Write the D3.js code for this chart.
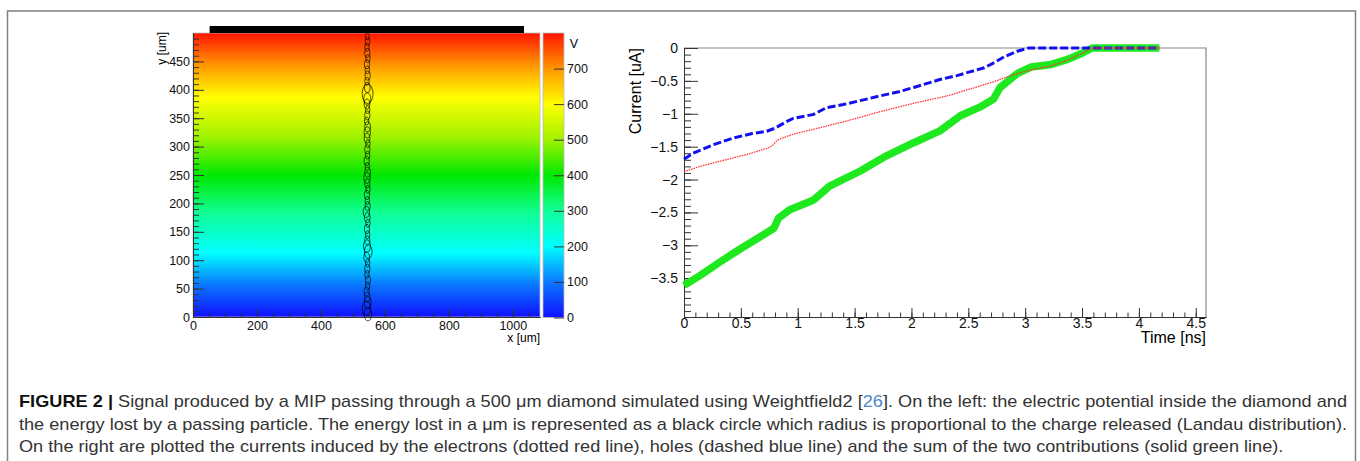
<!DOCTYPE html>
<html>
  <head>
    <meta charset="utf-8">
    <title>Weightfield2 diamond signal</title>
    <script src="https://d3js.org/d3.v7.min.js"></script>
    <style>
      body { margin: 0; background: #fff; }
      svg { display: block; font-family: "Liberation Sans", Arial, sans-serif; }
    </style>
  </head>
  <body>
    <div id="figure"></div>
    <script>
      // ---- left panel: potential map [um] and deposited charge ----
      var fieldY = [0, 113, 254, 388, 500];        // depth in um
      var fieldV = [0, 200, 406, 602, 800];        // potential in V
      var paletteV = [0, 100, 200, 300, 400, 500, 600, 700, 800];
      var paletteColors = ["#1010ff", "#0a78ff", "#00ffff", "#10ff98", "#00e800", "#a2f200", "#ffff00", "#ff9600", "#ff1400"];
      var colorTicks = [0, 100, 200, 300, 400, 500, 600, 700];
      var xTicksLeft = [0, 200, 400, 600, 800, 1000];
      var yTicksLeft = [0, 50, 100, 150, 200, 250, 300, 350, 400, 450];
      var electrode = [52, 1035];

      // circles along the track: y [um], radius [um], small x offset [um]
      var trackY = [5, 15, 25, 35, 45, 55, 65, 75, 85, 95, 105, 115, 125, 135, 145, 155, 165, 175, 185, 195,
                    205, 215, 225, 235, 245, 255, 265, 275, 285, 295, 305, 315, 325, 335, 345, 355, 365, 375, 384, 393,
                    404, 415, 425, 435, 445, 455, 465, 475, 485, 494];
      var trackR = [12, 13, 11, 9, 8, 7, 8, 7, 8, 7, 9, 12, 11, 8, 7, 8, 7, 9, 10, 8,
                    7, 8, 7, 8, 10, 9, 7, 8, 7, 8, 7, 9, 10, 9, 7, 8, 7, 9, 11, 17,
                    9, 7, 8, 7, 8, 7, 8, 7, 7, 6];
      var trackDx = [2, -3, 1, 0, -2, 1, 2, -1, 0, 1, -2, 3, -1, 0, 1, -1, 2, 0, -3, 1,
                     0, -1, 2, 0, -1, 1, 0, -2, 1, 0, 2, -1, 0, 1, -2, 0, 1, -1, 0, 1,
                     0, -1, 1, 0, -1, 2, 0, -1, 1, 0];

      // ---- right panel: induced currents ----
      var timeTicks = [0, 0.5, 1, 1.5, 2, 2.5, 3, 3.5, 4, 4.5];
      var currentTicks = [0, -0.5, -1, -1.5, -2, -2.5, -3, -3.5];

      var holesT = [0, 0.08, 0.26, 0.43, 0.60, 0.72, 0.80, 0.90, 0.96, 1.14, 1.25, 1.40, 1.55, 1.72, 1.90, 2.02, 2.25, 2.40, 2.52, 2.64, 2.73, 2.82, 2.93, 3.03, 3.5, 4.18];
      var holesI = [-1.69, -1.60, -1.47, -1.37, -1.30, -1.27, -1.22, -1.12, -1.07, -1.01, -0.91, -0.86, -0.80, -0.73, -0.66, -0.60, -0.48, -0.42, -0.36, -0.30, -0.22, -0.13, -0.05, 0, 0, 0];

      var electronsT = [0, 0.14, 0.32, 0.55, 0.74, 0.78, 0.82, 0.96, 1.20, 1.43, 1.72, 2.02, 2.31, 2.54, 2.73, 2.87, 3.08, 3.23, 3.38, 3.50, 3.59, 4.18];
      var electronsI = [-1.88, -1.80, -1.72, -1.62, -1.52, -1.48, -1.40, -1.31, -1.21, -1.11, -0.97, -0.84, -0.73, -0.61, -0.51, -0.42, -0.32, -0.27, -0.18, -0.08, 0, 0];

      var sumT = [0, 0.14, 0.32, 0.49, 0.67, 0.79, 0.83, 0.93, 1.14, 1.28, 1.55, 1.78, 2.02, 2.25, 2.43, 2.60, 2.72, 2.78, 2.93, 3.05, 3.23, 3.38, 3.50, 3.59, 4.18];
      var sumI = [-3.61, -3.46, -3.25, -3.06, -2.87, -2.74, -2.59, -2.46, -2.31, -2.10, -1.87, -1.64, -1.44, -1.26, -1.03, -0.90, -0.78, -0.60, -0.39, -0.29, -0.25, -0.17, -0.08, 0, 0];

      var captionLines = [
        [["FIGURE 2 | ", "bold"], ["Signal produced by a MIP passing through a 500 \u03bcm diamond simulated using Weightfield2 [", ""], ["26", "ref"], ["]. On the left: the electric potential inside the diamond and", ""]],
        [["the energy lost by a passing particle. The energy lost in a \u03bcm is represented as a black circle which radius is proportional to the charge released (Landau distribution).", ""]],
        [["On the right are plotted the currents induced by the electrons (dotted red line), holes (dashed blue line) and the sum of the two contributions (solid green line).", ""]]
      ];

      var width = 1360;
      var height = 461;

      var svg = d3.select("#figure")
        .append("svg")
        .attr("width", width)
        .attr("height", height);

      // outer box
      svg.append("rect")
        .attr("x", 7.5)
        .attr("y", 11)
        .attr("width", 1348)
        .attr("height", 470)
        .style("fill", "none")
        .style("stroke", "#808080")
        .style("stroke-width", 1.5);

      var defs = svg.append("defs");

      // ================= left panel =================
      var xL = d3.scaleLinear().domain([0, 1085]).range([193, 540]);
      var yL = d3.scaleLinear().domain([0, 500]).range([317, 33]);
      var vToY = d3.scaleLinear().domain(fieldV).range(fieldY);
      var color = d3.scaleLinear().domain(paletteV).range(paletteColors);

      // gradient for the map: stops at palette breaks and field breaks
      var stops = paletteV.map(function(v) { return { y: vToY(v), v: v }; })
        .concat(fieldY.map(function(y, i) { return { y: y, v: fieldV[i] }; }))
        .sort(function(a, b) { return a.y - b.y; });

      var fieldGrad = defs.append("linearGradient")
        .attr("id", "fieldGrad")
        .attr("gradientUnits", "userSpaceOnUse")
        .attr("x1", 0).attr("x2", 0)
        .attr("y1", yL(0)).attr("y2", yL(500));
      fieldGrad.selectAll("stop")
        .data(stops)
        .enter()
        .append("stop")
        .attr("offset", function(d) { return d.y / 500; })
        .attr("stop-color", function(d) { return color(d.v); });

      var left = svg.append("g");

      left.append("rect")
        .attr("x", xL(0))
        .attr("y", yL(500))
        .attr("width", xL(1085) - xL(0))
        .attr("height", yL(0) - yL(500))
        .style("fill", "url(#fieldGrad)")
        .style("stroke", "#bbb")
        .style("stroke-width", 0.8);

      // electrode
      left.append("rect")
        .attr("x", xL(electrode[0]))
        .attr("y", yL(500) - 7)
        .attr("width", xL(electrode[1]) - xL(electrode[0]))
        .attr("height", 7)
        .style("fill", "#000");

      // deposited charge along the track
      left.selectAll(".hit")
        .data(trackY)
        .enter()
        .append("ellipse")
        .attr("class", "hit")
        .attr("cx", function(d, i) { return xL(545 + trackDx[i]); })
        .attr("cy", function(d) { return yL(d); })
        .attr("rx", function(d, i) { return xL(trackR[i]) - xL(0); })
        .attr("ry", function(d, i) { return yL(0) - yL(trackR[i]); })
        .style("fill", "none")
        .style("stroke", "#000")
        .style("stroke-opacity", 0.85)
        .style("stroke-width", 0.8);

      // axes (ROOT style, ticks inside)
      var xMinorL = d3.range(0, 1085, 50);
      var yMinorL = d3.range(0, 500, 10);

      left.append("g")
        .attr("transform", "translate(0," + yL(0) + ")")
        .call(d3.axisBottom(xL).tickValues(xMinorL).tickSize(-4).tickSizeOuter(0).tickFormat(""));
      left.append("g")
        .attr("transform", "translate(0," + yL(0) + ")")
        .call(d3.axisBottom(xL).tickValues(xTicksLeft).tickSize(-8).tickSizeOuter(0).tickPadding(4)
          .tickFormat(d3.format("d")));
      left.append("g")
        .attr("transform", "translate(" + xL(0) + ",0)")
        .call(d3.axisLeft(yL).tickValues(yMinorL).tickSize(-6).tickSizeOuter(0).tickFormat(""));
      left.append("g")
        .attr("transform", "translate(" + xL(0) + ",0)")
        .call(d3.axisLeft(yL).tickValues(yTicksLeft).tickSize(-11).tickSizeOuter(0).tickPadding(3)
          .tickFormat(d3.format("d")));

      left.selectAll(".tick text").style("font-size", "12.5px").style("fill", "#111");
      left.selectAll(".domain, .tick line").style("stroke", "#333");

      left.append("text")
        .attr("transform", "translate(166,32) rotate(-90)")
        .attr("text-anchor", "end")
        .style("font-size", "12px")
        .text("y [um]");

      left.append("text")
        .attr("x", 540)
        .attr("y", 342)
        .attr("text-anchor", "end")
        .style("font-size", "12px")
        .text("x [um]");

      // colour bar
      var yC = d3.scaleLinear().domain([0, 800]).range([317.5, 33]);
      var barGrad = defs.append("linearGradient")
        .attr("id", "barGrad")
        .attr("gradientUnits", "userSpaceOnUse")
        .attr("x1", 0).attr("x2", 0)
        .attr("y1", yC(0)).attr("y2", yC(800));
      barGrad.selectAll("stop")
        .data(paletteV)
        .enter()
        .append("stop")
        .attr("offset", function(d) { return d / 800; })
        .attr("stop-color", function(d) { return color(d); });

      left.append("rect")
        .attr("x", 543)
        .attr("y", yC(800))
        .attr("width", 21)
        .attr("height", yC(0) - yC(800))
        .style("fill", "url(#barGrad)")
        .style("stroke", "#bbb")
        .style("stroke-width", 0.8);

      var barAxis = left.append("g")
        .attr("transform", "translate(564,0)")
        .call(d3.axisRight(yC).tickValues(colorTicks).tickSize(-10).tickSizeOuter(0).tickPadding(3)
          .tickFormat(d3.format("d")));
      barAxis.select(".domain").remove();
      barAxis.selectAll(".tick line").style("stroke", "#333");
      barAxis.selectAll(".tick text").style("font-size", "12.5px").style("fill", "#111");

      left.append("text")
        .attr("x", 574)
        .attr("y", 48)
        .attr("text-anchor", "middle")
        .style("font-size", "12.5px")
        .text("V");

      // ================= right panel =================
      var xR = d3.scaleLinear().domain([0, 4.59]).range([684, 1206]);
      var yR = d3.scaleLinear().domain([-4.09, 0]).range([317, 48]);
      var right = svg.append("g");

      // frame top / right
      right.append("path")
        .attr("d", "M" + xR(0) + "," + yR(0) + "H" + xR(4.59) + "V" + yR(-4.09))
        .style("fill", "none")
        .style("stroke", "#888")
        .style("stroke-width", 1.2);

      var fmt = d3.format("~g");
      right.append("g")
        .attr("transform", "translate(0," + yR(-4.09) + ")")
        .call(d3.axisBottom(xR).tickValues(d3.range(0, 4.59, 0.1)).tickSize(-4.5).tickSizeOuter(0).tickFormat(""));
      right.append("g")
        .attr("transform", "translate(0," + yR(-4.09) + ")")
        .call(d3.axisBottom(xR).tickValues(timeTicks).tickSize(-9).tickSizeOuter(0).tickPadding(1).tickFormat(fmt));
      right.append("g")
        .attr("transform", "translate(" + xR(0) + ",0)")
        .call(d3.axisLeft(yR).tickValues(d3.range(-4.0, 0.001, 0.1)).tickSize(-7).tickSizeOuter(0).tickFormat(""));
      right.append("g")
        .attr("transform", "translate(" + xR(0) + ",0)")
        .call(d3.axisLeft(yR).tickValues(currentTicks).tickSize(-14).tickSizeOuter(0).tickPadding(6).tickFormat(fmt));

      right.selectAll(".tick text").style("font-size", "14px").style("fill", "#111");
      right.selectAll(".domain, .tick line").style("stroke", "#333");

      var line = d3.line()
        .x(function(d) { return xR(d[0]); })
        .y(function(d) { return yR(d[1]); });

      right.append("path")
        .attr("d", line(d3.zip(sumT, sumI)))
        .style("fill", "none")
        .style("stroke", "#1ee81e")
        .style("stroke-width", 7.5)
        .style("stroke-linejoin", "round");

      right.append("path")
        .attr("d", line(d3.zip(holesT, holesI)))
        .style("fill", "none")
        .style("stroke", "#1010f0")
        .style("stroke-width", 3)
        .style("stroke-dasharray", "8,3");

      right.append("path")
        .attr("d", line(d3.zip(electronsT, electronsI)))
        .style("fill", "none")
        .style("stroke", "#ff3030")
        .style("stroke-width", 1.3)
        .style("stroke-dasharray", "1.5,1");

      right.append("text")
        .attr("transform", "translate(641,48) rotate(-90)")
        .attr("text-anchor", "end")
        .style("font-size", "16px")
        .text("Current [uA]");

      right.append("text")
        .attr("x", 1206)
        .attr("y", 343)
        .attr("text-anchor", "end")
        .style("font-size", "16px")
        .text("Time [ns]");

      // ================= caption =================
      var capY = [407, 430, 452];
      var capLeft = 19, capRight = 1347;

      var capText = svg.selectAll(".cap")
        .data(captionLines)
        .enter()
        .append("text")
        .attr("class", "cap")
        .style("font-size", "16px")
        .style("fill", "#333");

      capText.selectAll("tspan")
        .data(function(d) { return d; })
        .enter()
        .append("tspan")
        .style("font-weight", function(d) { return d[1] === "bold" ? "bold" : null; })
        .style("fill", function(d) { return d[1] === "bold" ? "#111" : d[1] === "ref" ? "#4f86c6" : null; })
        .text(function(d) { return d[0]; });

      // condensed face: one horizontal scale for all lines, lines 1 and 2 justified
      var nodes = capText.nodes();
      var natural = nodes.map(function(n) { return n.getComputedTextLength(); });
      var s = (capRight - capLeft) / ((natural[0] + natural[1]) / 2);
      capText
        .attr("transform", function(d, i) { return "translate(" + capLeft + "," + capY[i] + ") scale(" + s + ",1)"; })
        .each(function(d, i) {
          if (i < 2) {
            d3.select(this)
              .attr("textLength", (capRight - capLeft) / s)
              .attr("lengthAdjust", "spacing");
          }
        });
    </script>
  </body>
</html>
